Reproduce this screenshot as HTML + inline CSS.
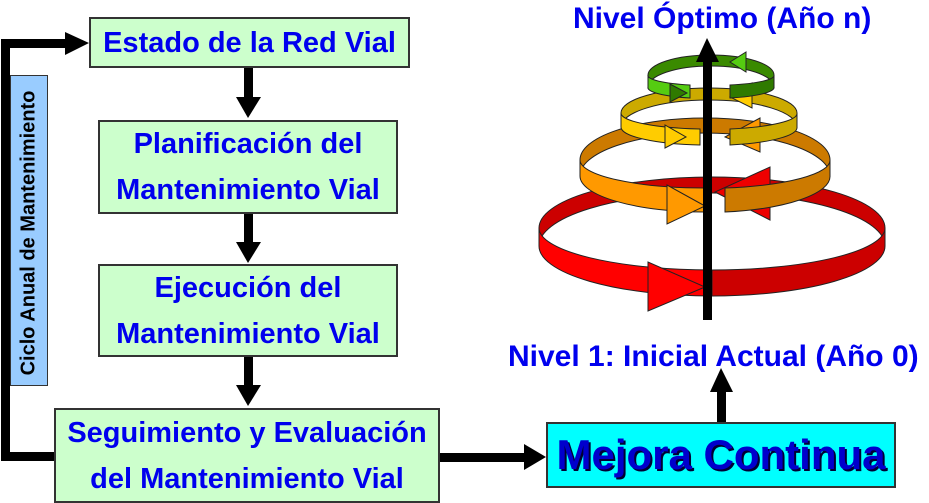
<!DOCTYPE html>
<html><head><meta charset="utf-8"><style>
body{margin:0;background:#fff;width:929px;height:503px;overflow:hidden;position:relative;font-family:"Liberation Sans",sans-serif;}
.b{position:absolute;background:#ccffcc;border:2px solid #333;box-sizing:border-box;color:#0000ee;font-weight:bold;text-align:center;display:flex;align-items:center;justify-content:center;line-height:46px;font-size:29px;}
.t{position:absolute;color:#0000ee;font-weight:bold;font-size:30px;white-space:nowrap;}
</style></head><body>
<svg width="929" height="503" style="position:absolute;left:0;top:0">
<g fill="#000">
<rect x="1" y="39" width="9" height="422"/>
<rect x="1" y="39" width="66" height="9"/>
<polygon points="65,32 89,43 65,55"/>
<rect x="1" y="452" width="54" height="9"/>
<rect x="244" y="68" width="9" height="32"/><polygon points="236,97 261,97 248,118"/>
<rect x="244" y="214" width="9" height="30"/><polygon points="236,242 261,242 248,263"/>
<rect x="244" y="357" width="9" height="30"/><polygon points="236,385 261,385 248,406"/>
<rect x="440" y="453" width="86" height="9"/><polygon points="524,444 546,457 524,470"/>
<rect x="717" y="390" width="9" height="33"/><polygon points="710,392 733,392 721,368"/>
</g>
<g stroke="#222" stroke-width="1">
<path d="M539,228 A173,51 0 0 1 885,228 L885,246 A173,53 0 0 0 539,246Z" fill="#cc0000"/>
<path d="M580,160 A125,42 0 0 1 830,160 L830,176 A125,43 0 0 0 580,176Z" fill="#cc7a00"/>
<path d="M621,113 A88,25 0 0 1 797,113 L797,127 A88,27 0 0 0 621,127Z" fill="#ccaa00"/>
<path d="M648,75 A63,20 0 0 1 774,75 L774,87 A63,21 0 0 0 648,87Z" fill="#3a8a00"/>
<polygon points="770,167 770,220 715,192" fill="#ee0000"/>
<polygon points="760,118 760,152 725,137" fill="#ff9900"/>
<polygon points="752,83 752,108 730,97" fill="#ffcc00"/>
<polygon points="746,52 746,72 730,62" fill="#55cc11"/>
<path d="M539,228 A173,42 0 0 0 712,270 L712,296 A173,50 0 0 1 539,246Z" fill="#ff0000"/>
<path d="M712,270 A173,42 0 0 0 885,228 L885,246 A173,50 0 0 1 712,296Z" fill="#cc0000"/>
<path d="M580,160 A125,28 0 0 0 705,188 L705,212 A125,36 0 0 1 580,176Z" fill="#ff9900"/>
<path d="M725,188 A125,28 0 0 0 830,160 L830,176 A125,36 0 0 1 725,212Z" fill="#cc7a00"/>
<path d="M621,113 A88,16 0 0 0 700,129 L700,145 A88,18 0 0 1 621,127Z" fill="#ffcc00"/>
<path d="M730,129 A88,16 0 0 0 797,113 L797,127 A88,18 0 0 1 730,145Z" fill="#ccaa00"/>
<path d="M648,75 A63,10 0 0 0 690,85 L690,98 A63,11 0 0 1 648,87Z" fill="#55cc11"/>
<path d="M730,85 A63,10 0 0 0 774,75 L774,87 A63,11 0 0 1 730,98Z" fill="#2f7a00"/>
<polygon points="648,262 648,311 705,287" fill="#ff0000"/>
<polygon points="667,185 667,224 705,206" fill="#ff9900"/>
<polygon points="665,125 665,148 686,137" fill="#ffcc00"/>
<polygon points="670,84 670,102 687,93" fill="#2f7a00"/>
</g>
<rect x="703" y="58" width="9" height="262" fill="#000"/>
<polygon points="696,62 719,62 707,38" fill="#000"/>
</svg>
<div class="b" style="left:89px;top:17px;width:321px;height:51px;">Estado de la Red Vial</div>
<div class="b" style="left:98px;top:120px;width:300px;height:94px;">Planificación del<br>Mantenimiento Vial</div>
<div class="b" style="left:98px;top:264px;width:300px;height:93px;">Ejecución del<br>Mantenimiento Vial</div>
<div class="b" style="left:54px;top:408px;width:386px;height:95px;">Seguimiento y Evaluación<br>del Mantenimiento Vial</div>
<div class="b" style="left:546px;top:422px;width:350px;height:66px;background:#00ffff;color:#0000cc;font-size:42px;text-shadow:2px 2px 0 #003;">Mejora Continua</div>
<div style="position:absolute;left:10px;top:75px;width:38px;height:311px;background:#99ccff;border:1px solid #333;box-sizing:border-box;"></div>
<div style="position:absolute;left:29px;top:233px;transform:translate(-50%,-50%) rotate(-90deg);font-size:20px;font-weight:bold;white-space:nowrap;color:#000;">Ciclo Anual de Mantenimiento</div>
<div class="t" style="left:573px;top:2px;">Nivel Óptimo (Año n)</div>
<div class="t" style="left:508px;top:340px;">Nivel 1: Inicial Actual (Año 0)</div>
</body></html>
